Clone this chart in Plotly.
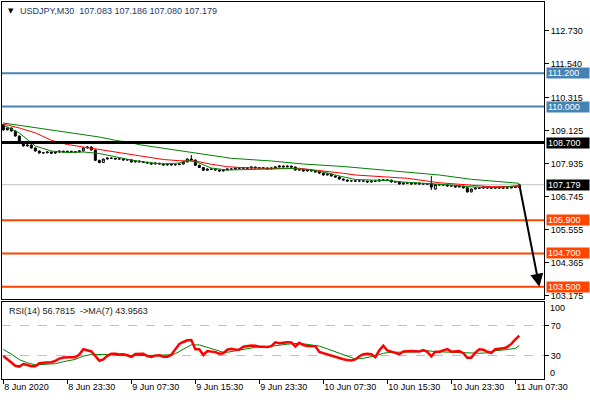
"""USDJPY M30 chart with support levels and RSI panel (MT4 style)."""

import pandas as pd
import plotly.graph_objects as go

# ── data ─────────────────────────────────────────────────────────────

bar_times = pd.date_range("2020-06-08 15:30", periods=130, freq="30min")

opens = [
    109.340, 109.160, 109.226, 109.117, 108.937, 108.720, 108.576, 108.612, 108.504, 108.395,
    108.323, 108.331, 108.359, 108.318, 108.352, 108.391, 108.362, 108.384, 108.355, 108.366,
    108.398, 108.504, 108.540, 108.432, 108.060, 107.980, 108.107, 108.140, 108.131, 108.107,
    108.112, 108.071, 108.078, 107.998, 108.035, 108.005, 107.992, 107.962, 107.926, 107.958,
    107.930, 107.890, 107.921, 107.895, 107.902, 107.926, 107.998, 108.107, 108.071, 107.880,
    107.800, 107.700, 107.746, 107.740, 107.712, 107.674, 107.710, 107.746, 107.742, 107.782,
    107.776, 107.785, 107.779, 107.818, 107.788, 107.780, 107.784, 107.748, 107.782, 107.818,
    107.854, 107.822, 107.850, 107.815, 107.710, 107.716, 107.674, 107.708, 107.678, 107.638,
    107.601, 107.529, 107.565, 107.493, 107.457, 107.385, 107.349, 107.313, 107.318, 107.309,
    107.315, 107.311, 107.277, 107.313, 107.308, 107.349, 107.352, 107.345, 107.277, 107.281,
    107.204, 107.241, 107.236, 107.208, 107.239, 107.205, 107.210, 107.230, 107.020, 107.190,
    107.168, 107.172, 107.132, 107.136, 107.096, 107.128, 107.070, 106.920, 107.024, 107.060,
    107.055, 107.096, 107.062, 107.058, 107.064, 107.060, 107.057, 107.063, 107.096, 107.083,
]
highs = [
    109.380, 109.250, 109.240, 109.130, 108.950, 108.740, 108.630, 108.640, 108.520, 108.410,
    108.350, 108.380, 108.370, 108.360, 108.410, 108.400, 108.390, 108.400, 108.380, 108.410,
    108.520, 108.560, 108.555, 108.450, 108.075, 108.120, 108.160, 108.160, 108.140, 108.130,
    108.125, 108.095, 108.090, 108.050, 108.050, 108.020, 108.005, 107.975, 107.975, 107.965,
    107.945, 107.935, 107.935, 107.915, 107.940, 108.015, 108.125, 108.251, 108.085, 107.900,
    107.815, 107.760, 107.765, 107.755, 107.725, 107.725, 107.760, 107.765, 107.795, 107.795,
    107.800, 107.800, 107.830, 107.830, 107.800, 107.800, 107.795, 107.795, 107.835, 107.870,
    107.865, 107.865, 107.865, 107.830, 107.730, 107.730, 107.720, 107.720, 107.690, 107.650,
    107.615, 107.580, 107.575, 107.505, 107.470, 107.400, 107.360, 107.330, 107.330, 107.325,
    107.330, 107.320, 107.325, 107.325, 107.360, 107.370, 107.365, 107.355, 107.295, 107.290,
    107.255, 107.255, 107.245, 107.250, 107.250, 107.225, 107.225, 107.490, 107.205, 107.205,
    107.185, 107.185, 107.150, 107.150, 107.140, 107.140, 107.085, 107.035, 107.075, 107.075,
    107.105, 107.110, 107.075, 107.075, 107.080, 107.075, 107.075, 107.110, 107.110, 107.186,
]
lows = [
    109.120, 109.140, 109.100, 108.915, 108.700, 108.555, 108.560, 108.485, 108.375, 108.300,
    108.305, 108.315, 108.300, 108.300, 108.335, 108.345, 108.350, 108.335, 108.345, 108.350,
    108.380, 108.490, 108.415, 108.030, 107.950, 107.965, 108.090, 108.110, 108.090, 108.090,
    108.050, 108.055, 107.980, 107.985, 107.985, 107.975, 107.940, 107.905, 107.910, 107.910,
    107.870, 107.875, 107.880, 107.880, 107.885, 107.910, 107.985, 108.055, 107.860, 107.780,
    107.680, 107.690, 107.725, 107.695, 107.655, 107.660, 107.695, 107.725, 107.730, 107.760,
    107.760, 107.765, 107.765, 107.770, 107.765, 107.765, 107.730, 107.735, 107.765, 107.800,
    107.805, 107.805, 107.800, 107.690, 107.695, 107.655, 107.660, 107.660, 107.620, 107.585,
    107.510, 107.515, 107.475, 107.440, 107.365, 107.330, 107.295, 107.300, 107.290, 107.295,
    107.295, 107.260, 107.260, 107.290, 107.290, 107.335, 107.330, 107.260, 107.260, 107.185,
    107.190, 107.220, 107.190, 107.190, 107.190, 107.190, 107.185, 106.985, 107.010, 107.150,
    107.150, 107.115, 107.115, 107.080, 107.080, 107.045, 106.890, 106.900, 107.010, 107.040,
    107.040, 107.045, 107.040, 107.045, 107.045, 107.040, 107.040, 107.045, 107.070, 107.080,
]
closes = [
    109.160, 109.226, 109.117, 108.937, 108.720, 108.576, 108.612, 108.504, 108.395, 108.323,
    108.331, 108.359, 108.318, 108.352, 108.391, 108.362, 108.384, 108.355, 108.366, 108.398,
    108.504, 108.540, 108.432, 108.060, 107.980, 108.107, 108.140, 108.131, 108.107, 108.112,
    108.071, 108.078, 107.998, 108.035, 108.005, 107.992, 107.962, 107.926, 107.958, 107.930,
    107.890, 107.921, 107.895, 107.902, 107.926, 107.998, 108.107, 108.071, 107.880, 107.800,
    107.700, 107.746, 107.740, 107.712, 107.674, 107.710, 107.746, 107.742, 107.782, 107.776,
    107.785, 107.779, 107.818, 107.788, 107.780, 107.784, 107.748, 107.782, 107.818, 107.854,
    107.822, 107.850, 107.815, 107.710, 107.716, 107.674, 107.708, 107.678, 107.638, 107.601,
    107.529, 107.565, 107.493, 107.457, 107.385, 107.349, 107.313, 107.318, 107.309, 107.315,
    107.311, 107.277, 107.313, 107.308, 107.349, 107.352, 107.345, 107.277, 107.281, 107.204,
    107.241, 107.236, 107.208, 107.239, 107.205, 107.210, 107.202, 107.092, 107.190, 107.168,
    107.172, 107.132, 107.136, 107.096, 107.128, 107.060, 106.920, 107.024, 107.060, 107.055,
    107.096, 107.062, 107.058, 107.064, 107.060, 107.057, 107.063, 107.096, 107.083, 107.179,
]

# moving averages on price, sampled at bar positions
ma_fast_idx = [0, 4, 8, 12, 16, 20, 24, 28, 32, 36, 40, 44, 46, 48, 50, 52, 56, 64, 72, 76,
               80, 84, 88, 92, 96, 100, 108, 112, 116, 120, 124, 129]
ma_fast = [109.334, 109.045, 108.576, 108.395, 108.341, 108.359, 108.305, 108.179, 108.071, 107.980,
           107.926, 107.962, 108.052, 108.016, 107.890, 107.782, 107.710, 107.746, 107.764, 107.728,
           107.638, 107.493, 107.367, 107.349, 107.331, 107.277, 107.222, 107.168, 107.114, 107.078,
           107.071, 107.157]
ma_mid_idx = [0, 4, 8, 12, 16, 20, 24, 28, 32, 36, 40, 44, 48, 52, 56, 60, 66, 74, 78, 82,
              85, 88, 92, 101, 109, 115, 122, 129]
ma_mid = [109.370, 109.226, 109.050, 108.782, 108.630, 108.540, 108.450, 108.359, 108.269, 108.179,
          108.089, 108.045, 108.035, 107.915, 107.829, 107.793, 107.771, 107.771, 107.710, 107.638,
          107.591, 107.529, 107.493, 107.410, 107.251, 107.194, 107.107, 107.121]
ma_slow_idx = [0, 8, 16, 24, 28, 32, 34, 43, 46, 52, 57, 67, 75, 85, 92, 101, 109, 117, 124, 129]
ma_slow = [109.406, 109.236, 109.056, 108.901, 108.782, 108.695, 108.623, 108.421, 108.370, 108.226,
           108.132, 108.035, 107.926, 107.836, 107.746, 107.648, 107.529, 107.374, 107.287, 107.230]

rsi = [
    30.0, 25.5, 21.0, 17.0, 16.0, 19.4, 18.0, 16.5, 16.5, 20.5,
    21.2, 21.2, 21.8, 23.5, 26.5, 28.0, 28.7, 28.4, 28.3, 32.0,
    39.0, 37.8, 36.0, 30.0, 23.8, 25.6, 30.3, 33.0, 33.0, 32.0,
    32.4, 31.0, 29.0, 32.5, 33.0, 32.8, 30.0, 28.8, 30.5, 30.9,
    29.1, 29.1, 31.5, 38.0, 46.0, 48.5, 50.8, 51.1, 38.8, 39.0,
    31.3, 36.5, 35.8, 35.1, 33.0, 33.6, 38.3, 39.6, 38.3, 38.6,
    42.3, 43.0, 43.7, 43.4, 42.3, 42.3, 41.9, 43.0, 48.1, 47.0,
    48.1, 48.3, 48.0, 42.5, 47.5, 44.5, 43.2, 43.2, 43.0, 35.3,
    33.6, 32.5, 30.3, 28.3, 26.7, 25.6, 24.8, 24.2, 25.5, 29.7,
    32.2, 32.9, 32.3, 28.5, 37.5, 43.6, 37.3, 35.8, 33.4, 32.4,
    35.9, 36.6, 36.6, 36.3, 36.0, 37.9, 35.5, 29.5, 35.7, 35.7,
    37.2, 39.0, 35.7, 35.7, 36.4, 33.6, 27.8, 27.8, 34.5, 38.8,
    38.3, 35.5, 34.2, 38.9, 39.4, 40.1, 41.8, 46.0, 52.0, 56.78,
]
rsi_ma_idx = [0, 2, 4, 6, 8, 10, 13, 15, 18, 20, 22, 27, 29, 33, 36, 39, 42, 43, 45, 47,
              49, 51, 53, 55, 56, 58, 60, 63, 66, 69, 71, 74, 76, 78, 79, 81, 83, 85, 86, 88,
              90, 92, 93, 95, 97, 103, 105, 106, 108, 115, 116, 119, 122, 123, 125, 127, 128, 129]
rsi_ma = [38.5, 32.5, 25.2, 21.0, 18.3, 19.2, 19.8, 22.5, 25.5, 29.8, 32.0, 32.0, 30.4, 30.4,
          30.9, 31.3, 31.5, 33.0, 39.0, 44.8, 44.6, 41.5, 37.9, 34.9, 34.9, 37.0, 38.8, 41.5,
          42.3, 44.5, 45.6, 46.8, 45.7, 44.5, 43.1, 39.4, 35.7, 32.4, 29.5, 26.0, 27.0, 28.5,
          30.0, 33.6, 34.9, 35.3, 36.5, 37.0, 35.7, 34.9, 34.0, 33.6, 34.5, 37.0, 37.9, 39.0,
          40.1, 43.96]

price_ticks = [112.730, 111.540, 110.315, 109.125, 107.935, 106.745, 105.555, 104.365, 103.175]
time_tick_labels = ["8 Jun 2020", "8 Jun 23:30", "9 Jun 07:30", "9 Jun 15:30", "9 Jun 23:30",
                    "10 Jun 07:30", "10 Jun 15:30", "10 Jun 23:30", "11 Jun 07:30"]

resistance_levels = [111.200, 110.000]
pivot_level = 108.700
support_levels = [105.900, 104.700, 103.500]
last_price = 107.179
arrow_from = (pd.Timestamp("2020-06-11 08:00"), 107.179)
arrow_to = (pd.Timestamp("2020-06-11 10:30"), 103.500)

header = "USDJPY,M30  107.083 107.186 107.080 107.179"
rsi_header = "RSI(14) 56.7815  ->MA(7) 43.9563"

# ── style ────────────────────────────────────────────────────────────

FONT = "Liberation Sans, Arial, sans-serif"
FSIZE = 9
STEEL = "#4682B4"
ORANGE = "#FF4500"
GREEN = "#008000"
RED = "#FF0000"

# ── chart ────────────────────────────────────────────────────────────

fig = go.Figure()

fig.add_trace(
    go.Candlestick(
        x=bar_times,
        open=opens,
        high=highs,
        low=lows,
        close=closes,
        increasing={"line": {"color": "black", "width": 1}, "fillcolor": "white"},
        decreasing={"line": {"color": "black", "width": 1}, "fillcolor": "black"},
        whiskerwidth=0,
        showlegend=False,
        xaxis="x",
        yaxis="y",
    )
)
for idx, vals, color in [
    (ma_slow_idx, ma_slow, GREEN),
    (ma_mid_idx, ma_mid, RED),
    (ma_fast_idx, ma_fast, GREEN),
]:
    fig.add_trace(
        go.Scatter(
            x=bar_times[idx],
            y=vals,
            mode="lines",
            line={"color": color, "width": 1},
            showlegend=False,
            xaxis="x",
            yaxis="y",
        )
    )

fig.add_trace(
    go.Scatter(
        x=bar_times[rsi_ma_idx],
        y=rsi_ma,
        mode="lines",
        line={"color": GREEN, "width": 1},
        showlegend=False,
        xaxis="x2",
        yaxis="y2",
    )
)
fig.add_trace(
    go.Scatter(
        x=bar_times,
        y=rsi,
        mode="lines",
        line={"color": RED, "width": 2.5},
        showlegend=False,
        xaxis="x2",
        yaxis="y2",
    )
)

# horizontal levels
shapes = [
    {"type": "line", "xref": "paper", "x0": 0, "x1": 1, "yref": "y",
     "y0": last_price, "y1": last_price, "line": {"color": "#c0c0c0", "width": 1}, "layer": "below"}
]
for lvl in resistance_levels:
    shapes.append({"type": "line", "xref": "paper", "x0": 0, "x1": 1, "yref": "y",
                   "y0": lvl, "y1": lvl, "line": {"color": STEEL, "width": 2}})
shapes.append({"type": "line", "xref": "paper", "x0": 0, "x1": 1, "yref": "y",
               "y0": pivot_level, "y1": pivot_level, "line": {"color": "black", "width": 3}})
for lvl in support_levels:
    shapes.append({"type": "line", "xref": "paper", "x0": 0, "x1": 1, "yref": "y",
                   "y0": lvl, "y1": lvl, "line": {"color": ORANGE, "width": 2}})

# price boxes on the right axis
annotations = []
for lvl, color in (
    [(v, STEEL) for v in resistance_levels]
    + [(pivot_level, "black"), (last_price, "black")]
    + [(v, ORANGE) for v in support_levels]
):
    annotations.append(
        {"x": 1, "xref": "paper", "y": lvl, "yref": "y", "text": f"{lvl:.3f}",
         "showarrow": False, "xanchor": "left", "xshift": 2, "bgcolor": color,
         "font": {"color": "white", "size": FSIZE, "family": FONT},
         "width": 40, "height": 8, "borderpad": 1, "align": "left"}
    )

annotations += [
    {"x": arrow_to[0], "y": arrow_to[1], "xref": "x", "yref": "y",
     "ax": arrow_from[0], "ay": arrow_from[1], "axref": "x", "ayref": "y",
     "text": "", "showarrow": True, "arrowhead": 2, "arrowsize": 1.3,
     "arrowwidth": 2, "arrowcolor": "black"},
    {"x": 0, "xref": "paper", "y": 1, "yref": "paper", "text": "▼",
     "showarrow": False, "xanchor": "left", "yanchor": "top", "xshift": 4, "yshift": -3,
     "font": {"size": 7, "color": "black", "family": "DejaVu Sans"}},
    {"x": 0, "xref": "paper", "y": 1, "yref": "paper", "text": header,
     "showarrow": False, "xanchor": "left", "yanchor": "top", "xshift": 16, "yshift": -2,
     "font": {"size": FSIZE, "color": "#22386a", "family": FONT}},
    {"x": 0, "xref": "paper", "y": 1, "yref": "y2 domain", "text": rsi_header,
     "showarrow": False, "xanchor": "left", "yanchor": "top", "xshift": 5, "yshift": -2,
     "font": {"size": FSIZE, "color": "#222222", "family": FONT}},
    {"x": 1, "xref": "paper", "y": 93.4, "yref": "y2", "text": "100",
     "showarrow": False, "xanchor": "left", "xshift": 4,
     "font": {"size": FSIZE, "color": "black", "family": FONT}},
    {"x": 1, "xref": "paper", "y": 8, "yref": "y2", "text": "0",
     "showarrow": False, "xanchor": "left", "xshift": 4,
     "font": {"size": FSIZE, "color": "black", "family": FONT}},
]

axis_common = {"showline": True, "linecolor": "black", "linewidth": 1, "mirror": True,
               "showgrid": False, "zeroline": False}
x_range = [pd.Timestamp("2020-06-08 15:20"), pd.Timestamp("2020-06-11 11:05")]

fig.update_layout(
    width=590,
    height=400,
    margin={"l": 2, "r": 46, "t": 2, "b": 21},
    paper_bgcolor="white",
    plot_bgcolor="white",
    font={"family": FONT, "size": FSIZE, "color": "black"},
    showlegend=False,
    shapes=shapes,
    annotations=annotations,
    xaxis={**axis_common, "domain": [0, 1], "anchor": "y", "range": x_range,
           "showticklabels": False, "ticks": "", "rangeslider": {"visible": False}},
    yaxis={**axis_common, "domain": [0.2135, 1], "anchor": "x", "side": "right",
           "range": [103.072, 113.773], "tickvals": price_ticks,
           "ticktext": [f"{v:.3f}" for v in price_ticks],
           "ticks": "outside", "ticklen": 4, "tickcolor": "black"},
    xaxis2={**axis_common, "domain": [0, 1], "anchor": "y2", "matches": "x",
            "tickvals": bar_times[::16], "ticktext": time_tick_labels,
            "ticks": "outside", "ticklen": 4, "tickcolor": "black",
            "ticklabelposition": "outside right", "ticklabelstandoff": -1},
    yaxis2={**axis_common, "domain": [0, 0.205], "anchor": "x2", "side": "right",
            "range": [-0.4, 101.7], "tickvals": [70, 30], "ticktext": ["70", "30"],
            "ticks": "outside", "ticklen": 4, "tickcolor": "black",
            "showgrid": True, "gridcolor": "#c0c0c0", "griddash": "dash", "gridwidth": 1},
)

# drop the browser's default page margin so the 590x400 figure fills the window
fig.write_html(
    "out.html",
    config={"displayModeBar": False},
    post_script="document.body.style.margin = '0';",
)
